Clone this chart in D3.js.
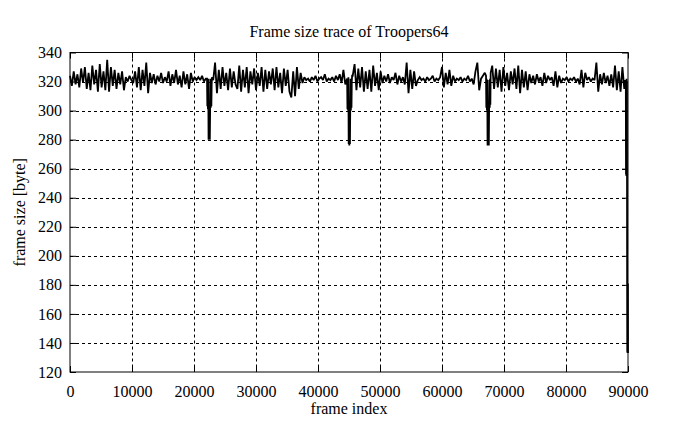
<!DOCTYPE html>
<html>
<head>
<meta charset="utf-8">
<script src="https://cdn.jsdelivr.net/npm/d3@7"></script>
<style>
  html, body { margin: 0; padding: 0; background: #fff; }
  svg { display: block; }
  text { font-family: "Liberation Serif", "Times New Roman", serif; fill: #000; }
</style>
</head>
<body>
<svg id="chart" width="695" height="426"></svg>
<script>
// ---- data ----
const chartTitle = "Frame size trace of Troopers64";
const xLabel = "frame index";
const yLabel = "frame size [byte]";
const xTicks = [0, 10000, 20000, 30000, 40000, 50000, 60000, 70000, 80000, 90000];
const yTicks = [120, 140, 160, 180, 200, 220, 240, 260, 280, 300, 320, 340];
const xDomain = [0, 90000];
const yDomain = [120, 340];

// sampled frame sizes (one value every frameStep frames, starting at frame 0)
const frameStep = 300;
const frameSizes = [
  324, 317, 327, 318, 325, 316, 329, 319, 330, 315,
  326, 314, 331, 318, 328, 313, 332, 316, 327, 314,
  335, 313, 330, 317, 328, 315, 326, 318, 327, 314,
  323, 320, 324, 321, 319, 327, 316, 330, 314, 328,
  317, 333, 312, 326, 319, 325, 318, 324, 320, 326,
  319, 323, 320, 327, 317, 325, 319, 328, 318, 324,
  316, 327, 318, 325, 315, 326, 320, 323, 321, 323,
  321, 324, 320, 322, 300, 280, 302, 321, 333, 312,
  328, 315, 330, 317, 326, 314, 329, 316, 327, 318,
  315, 331, 313, 328, 316, 330, 312, 327, 318, 329,
  314, 326, 317, 330, 313, 328, 315, 327, 318, 329,
  314, 330, 316, 326, 312, 329, 317, 328, 313, 309,
  327, 310, 330, 315, 326, 319, 323, 321, 322, 320,
  323, 321, 324, 320, 322, 323, 321, 325, 320, 322,
  321, 323, 320, 324, 321, 325, 319, 328, 318, 300,
  277, 301, 324, 332, 314, 329, 316, 330, 313, 327,
  315, 328, 313, 331, 317, 326, 314, 327, 319, 324,
  320, 325, 319, 323, 321, 326, 318, 324, 320, 323,
  318, 333, 312, 328, 315, 327, 317, 321, 323, 321,
  322, 320, 323, 321, 322, 324, 320, 322, 321, 323,
  330, 316, 326, 318, 328, 317, 324, 320, 322, 321,
  323, 320, 322, 321, 324, 320, 322, 318, 327, 333,
  314, 322, 324, 326, 302, 276, 300, 331, 315, 329,
  316, 328, 313, 330, 317, 326, 314, 327, 318, 329,
  315, 331, 312, 328, 316, 327, 314, 325, 319, 324,
  318, 325, 320, 323, 317, 326, 319, 324, 321, 323,
  317, 327, 316, 324, 319, 322, 321, 323, 320, 322,
  321, 323, 320, 322, 318, 328, 316, 326, 321, 323,
  320, 322, 321, 333, 313, 325, 318, 326, 319, 324,
  317, 325, 316, 331, 314, 327, 313, 330, 315, 328
];

// full-resolution stretches around the three drops and at the end of the trace
const dip1Frames = [22100, 22150, 22200, 22250, 22300, 22350, 22400, 22450, 22500, 22550, 22600, 22650, 22700, 22750, 22800, 22850, 22900];
const dip1Sizes  = [322, 303, 321, 301, 322, 280, 302, 281, 300, 280, 301, 322, 302, 321, 303, 318, 323];
const dip2Frames = [44700, 44750, 44800, 44850, 44900, 44950, 45000, 45050, 45100, 45150, 45200, 45250, 45300, 45350, 45400, 45450, 45500];
const dip2Sizes  = [322, 301, 320, 300, 323, 277, 300, 276, 301, 277, 302, 322, 300, 321, 302, 320, 324];
const dip3Frames = [67100, 67150, 67200, 67250, 67300, 67350, 67400, 67450, 67500, 67550, 67600, 67650, 67700, 67750, 67800, 67850];
const dip3Sizes  = [324, 302, 322, 300, 321, 276, 301, 277, 300, 276, 303, 321, 302, 322, 304, 326];
const tailFrames = [89550, 89650, 89680, 89710, 89740, 89770, 89800, 89830, 89860, 89880, 89900, 89920, 89940, 89960, 89980, 90000];
const tailSizes  = [321, 318, 256, 321, 255, 322, 256, 320, 181, 134, 181, 133, 180, 134, 181, 133];

// ---- layout ----
const plot = { left: 70, right: 628, top: 52.5, bottom: 372 };

const svg = d3.select("#chart");
const x = d3.scaleLinear().domain(xDomain).range([plot.left, plot.right]);
const y = d3.scaleLinear().domain(yDomain).range([plot.bottom, plot.top]);

const details = [[dip1Frames, dip1Sizes], [dip2Frames, dip2Sizes], [dip3Frames, dip3Sizes], [tailFrames, tailSizes]];
const windows = details.map(([f]) => [f[0], f[f.length - 1]]);
let series = frameSizes.map((v, i) => ({ f: i * frameStep, v }))
  .filter(d => !windows.some(([a, b]) => d.f >= a && d.f <= b));
details.forEach(([fs, vs]) => fs.forEach((f, i) => series.push({ f, v: vs[i] })));
series.sort((a, b) => a.f - b.f);

// grid
const grid = svg.append("g").attr("stroke", "#000").attr("stroke-width", 1)
  .attr("stroke-dasharray", "3,3").attr("fill", "none");
grid.selectAll("line.gx").data(xTicks.filter(t => t > xDomain[0] && t < xDomain[1]))
  .join("line").attr("class", "gx")
  .attr("x1", d => Math.round(x(d)) + 0.5).attr("x2", d => Math.round(x(d)) + 0.5)
  .attr("y1", plot.top).attr("y2", plot.bottom);
grid.selectAll("line.gy").data(yTicks.filter(t => t > yDomain[0] && t < yDomain[1]))
  .join("line").attr("class", "gy")
  .attr("x1", plot.left).attr("x2", plot.right)
  .attr("y1", d => Math.round(y(d)) + 0.5).attr("y2", d => Math.round(y(d)) + 0.5);

// data line
const line = d3.line().x(d => x(d.f)).y(d => y(d.v));
svg.append("path").datum(series)
  .attr("d", line)
  .attr("fill", "none")
  .attr("stroke", "#000")
  .attr("stroke-width", 1.8)
  .attr("stroke-linejoin", "miter")
  .attr("stroke-miterlimit", 2);

// axes (ticks inward, mirrored)
const fontSize = 16;
const axB = svg.append("g").attr("transform", `translate(0,${plot.bottom})`)
  .call(d3.axisBottom(x).tickValues(xTicks).tickSize(-6).tickSizeOuter(0).tickPadding(14).tickFormat(d3.format("d")));
const axT = svg.append("g").attr("transform", `translate(0,${plot.top})`)
  .call(d3.axisTop(x).tickValues(xTicks).tickSize(-6).tickSizeOuter(0).tickFormat(""));
const axL = svg.append("g").attr("transform", `translate(${plot.left},0)`)
  .call(d3.axisLeft(y).tickValues(yTicks).tickSize(-6).tickSizeOuter(0).tickPadding(8).tickFormat(d3.format("d")));
const axR = svg.append("g").attr("transform", `translate(${plot.right},0)`)
  .call(d3.axisRight(y).tickValues(yTicks).tickSize(-6).tickSizeOuter(0).tickFormat(""));
[axB, axT, axL, axR].forEach(a => {
  a.select(".domain").remove();
  a.selectAll("text").style("font-family", '"Liberation Serif", serif').style("font-size", fontSize + "px").attr("fill", "#000");
  a.selectAll(".tick line").attr("stroke", "#000");
});

// border
svg.append("rect")
  .attr("x", plot.left).attr("y", plot.top)
  .attr("width", plot.right - plot.left).attr("height", plot.bottom - plot.top)
  .attr("fill", "none").attr("stroke", "#000").attr("stroke-width", 1);

// title & labels
svg.append("text").attr("x", 349).attr("y", 37).attr("text-anchor", "middle")
  .style("font-size", "16px").text(chartTitle);
svg.append("text").attr("x", 349).attr("y", 414).attr("text-anchor", "middle")
  .style("font-size", "16px").text(xLabel);
svg.append("text").attr("transform", `translate(25,${(plot.top + plot.bottom) / 2}) rotate(-90)`)
  .attr("text-anchor", "middle").style("font-size", "16px").text(yLabel);
</script>
</body>
</html>
